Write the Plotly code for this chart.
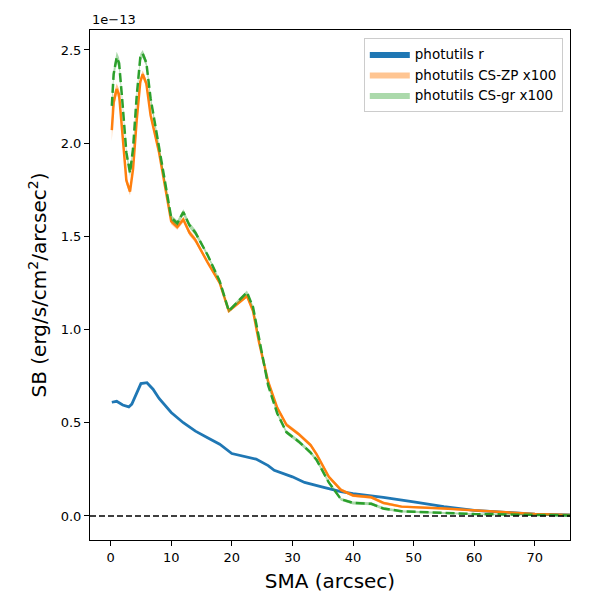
import plotly.graph_objects as go

# surface brightness profiles, values in units of 1e-13
sma_r = [0.2, 1, 2, 3, 3.5, 4, 5, 6, 7, 8, 10, 12, 14, 16, 18, 20, 22, 24, 26, 27,
         30, 32, 35, 38, 40, 45, 50, 55, 60, 65, 70, 75.8]
sb_r = [0.61, 0.615, 0.595, 0.585, 0.60, 0.64, 0.71, 0.715, 0.68, 0.63, 0.555, 0.50,
        0.455, 0.42, 0.385, 0.335, 0.32, 0.305, 0.27, 0.245, 0.21, 0.18, 0.155, 0.13,
        0.12, 0.10, 0.075, 0.05, 0.03, 0.02, 0.01, 0.005]

sma_cs = [0.2, 0.5, 1.0, 1.4, 1.9, 2.6, 3.2, 3.7, 4.3, 4.9, 5.3, 5.9, 6.6, 8, 10, 11,
          12, 13, 14, 16, 18, 19.5, 21, 22.5, 23.5, 24.5, 26, 27.5, 29, 31, 33, 34,
          36, 38, 40, 43, 45, 48, 55, 60, 65, 70, 75.8]
sb_zp = [2.07, 2.22, 2.29, 2.26, 2.07, 1.80, 1.74, 1.86, 2.12, 2.33, 2.37, 2.32, 2.15,
         1.95, 1.58, 1.55, 1.59, 1.52, 1.48, 1.36, 1.25, 1.10, 1.14, 1.18, 1.10, 0.93,
         0.72, 0.58, 0.49, 0.44, 0.38, 0.33, 0.21, 0.14, 0.11, 0.10, 0.07, 0.05, 0.04,
         0.03, 0.02, 0.01, 0.005]
err_zp = [0.06, 0.04, 0.03, 0.03, 0.02, 0.02, 0.02, 0.02, 0.02, 0.02, 0.02, 0.02, 0.02,
          0.015, 0.015, 0.015, 0.015, 0.015, 0.015, 0.01, 0.01, 0.01, 0.01, 0.01, 0.01,
          0.01, 0.01, 0.01, 0.01, 0.01, 0.01, 0.01, 0.01, 0.008, 0.008, 0.008, 0.008,
          0.006, 0.005, 0.005, 0.004, 0.003, 0.003]
sb_gr = [2.20, 2.37, 2.46, 2.43, 2.24, 1.95, 1.84, 1.97, 2.25, 2.46, 2.48, 2.43, 2.24,
         1.98, 1.60, 1.57, 1.63, 1.56, 1.52, 1.40, 1.26, 1.10, 1.15, 1.20, 1.12, 0.95,
         0.70, 0.55, 0.45, 0.40, 0.34, 0.30, 0.18, 0.09, 0.07, 0.065, 0.04, 0.025,
         0.015, 0.01, 0.008, 0.005, 0.003]
err_gr = [0.04, 0.03, 0.03, 0.03, 0.02, 0.02, 0.02, 0.02, 0.02, 0.02, 0.02, 0.02, 0.02,
          0.015, 0.015, 0.015, 0.015, 0.015, 0.015, 0.01, 0.01, 0.01, 0.01, 0.01, 0.01,
          0.01, 0.01, 0.01, 0.01, 0.01, 0.01, 0.01, 0.01, 0.008, 0.008, 0.008, 0.008,
          0.006, 0.005, 0.005, 0.004, 0.003, 0.003]

x_ticks = [0, 10, 20, 30, 40, 50, 60, 70]
y_ticks = [0.0, 0.5, 1.0, 1.5, 2.0, 2.5]

fig = go.Figure()


def band(x, y, err, color, name):
    lo = [a - e for a, e in zip(y, err)]
    hi = [a + e for a, e in zip(y, err)]
    fig.add_trace(go.Scatter(x=x, y=lo, mode="lines", line=dict(width=0),
                             showlegend=False, hoverinfo="skip"))
    fig.add_trace(go.Scatter(x=x, y=hi, mode="lines", line=dict(width=0),
                             fill="tonexty", fillcolor=color, name=name))


# photutils r
fig.add_trace(go.Scatter(x=sma_r, y=sb_r, mode="lines", showlegend=False,
                         line=dict(color="#1f77b4", width=2.8)))
fig.add_trace(go.Scatter(x=[None], y=[None], mode="lines", line=dict(width=0),
                         fill="toself", fillcolor="#1f77b4", name="photutils r"))

band(sma_cs, sb_zp, err_zp, "rgba(255,127,14,0.45)", "photutils CS-ZP x100")
fig.add_trace(go.Scatter(x=sma_cs, y=sb_zp, mode="lines", showlegend=False,
                         line=dict(color="#ff7f0e", width=2.5)))

band(sma_cs, sb_gr, err_gr, "rgba(44,160,44,0.4)", "photutils CS-gr x100")
fig.add_trace(go.Scatter(x=sma_cs, y=sb_gr, mode="lines", showlegend=False,
                         line=dict(color="#2ca02c", width=2.5, dash="9px,4px")))

fig.add_hline(y=0, line=dict(color="black", width=1.6, dash="6px,3px"))

axis_common = dict(showline=True, linecolor="black", linewidth=1, mirror=True,
                   ticks="outside", ticklen=5, tickcolor="black", showgrid=False,
                   zeroline=False, automargin=False,
                   tickfont=dict(size=13, color="black"))

fig.update_xaxes(range=[-3.4, 75.8], tickvals=x_ticks,
                 title=dict(text="SMA (arcsec)", font=dict(size=20, color="black"),
                            standoff=10),
                 **axis_common)
fig.update_yaxes(range=[-0.129, 2.607], tickvals=y_ticks,
                 ticktext=[f"{v:.1f}" for v in y_ticks],
                 title=dict(text="SB (erg/s/cm<sup>2</sup>/arcsec<sup>2</sup>)",
                            font=dict(size=20, color="black"), standoff=8),
                 **axis_common)

fig.add_annotation(text="1e\u221213", xref="paper", yref="paper", x=0, y=1,
                   xanchor="left", yanchor="bottom", showarrow=False,
                   font=dict(size=13, color="black"), yshift=1)

fig.update_layout(
    width=600, height=600,
    margin=dict(l=82, r=38, t=22, b=68),
    plot_bgcolor="white", paper_bgcolor="white",
    font=dict(family="DejaVu Sans", color="black"),
    legend=dict(x=0.985, y=0.985, xanchor="right", yanchor="top",
                traceorder="normal",
                bordercolor="#cccccc", borderwidth=1, bgcolor="white",
                font=dict(size=13.5), tracegroupgap=0, itemwidth=40),
)

fig.write_html("out.html")
